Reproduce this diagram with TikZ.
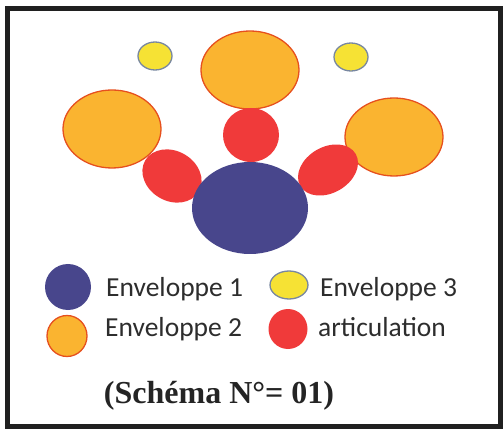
\documentclass[tikz,border=0pt]{standalone}
\usepackage{fontspec}
\setmainfont{Carlito}
\newfontfamily\titlefont{Liberation Serif}
\usepackage{xcolor}
\usetikzlibrary{shapes.geometric, positioning}
\definecolor{envblue}{RGB}{72,70,140}
\definecolor{envorange}{RGB}{250,180,48}
\definecolor{envedge}{RGB}{230,80,30}
\definecolor{envyellow}{RGB}{246,226,52}
\definecolor{yellowedge}{RGB}{120,135,160}
\definecolor{artred}{RGB}{240,58,58}
\definecolor{textgray}{RGB}{45,45,45}
\tikzset{
  envone/.style={ellipse,fill=envblue,inner sep=0pt},
  envtwo/.style={ellipse,fill=envorange,draw=envedge,line width=1.3pt,inner sep=0pt,
    minimum width=98pt,minimum height=78pt},
  envthree/.style={ellipse,fill=envyellow,draw=yellowedge,line width=1.3pt,inner sep=0pt,
    minimum width=34pt,minimum height=28pt},
  joint/.style={ellipse,fill=artred,inner sep=0pt},
  legendtext/.style={anchor=base west,text=textgray,font=\fontsize{27.5}{29}\selectfont,inner sep=0pt}
}

\begin{document}
\begin{tikzpicture}[x=1pt,y=-1pt]
  \useasboundingbox (0,0) rectangle (504,433);
  \node[draw=textgray!70!black,line width=5pt,minimum width=493pt,minimum height=417pt,
    inner sep=0pt] (frame) at (253.5,217.5) {};

  % the figure
  \node[envthree] (yleft) at (155,56) {};
  \node[envthree] (yright) at (351,57) {};
  \node[envtwo] (otop) at (250,70) {};
  \node[envtwo] (oleft) at (112,129) {};
  \node[envtwo] (oright) at (394,137) {};
  \node[joint,minimum width=56pt,minimum height=54pt] (rtop) at (251,135) {};
  \node[joint,minimum width=62pt,minimum height=50pt,rotate=-30] (rleft) at (172,176) {};
  \node[joint,minimum width=64pt,minimum height=46pt,rotate=30] (rright) at (328,170) {};
  \node[envone,minimum width=116pt,minimum height=92pt] (body) at (250,208) {};

  % legend
  \node[envone,minimum size=46pt] (keyone) at (68,287) {};
  \node[legendtext] (labone) at (106,296) {Enveloppe 1};
  \node[envthree,minimum width=38pt,minimum height=28pt] (keythree) at (289,285) {};
  \node[legendtext] (labthree) at (320,296) {Enveloppe 3};
  \node[envtwo,minimum width=40pt,minimum height=41pt] (keytwo) at (67,336) {};
  \node[legendtext] (labtwo) at (105,336) {Enveloppe 2};
  \node[joint,minimum width=39pt,minimum height=40pt] (keyjoint) at (288,329) {};
  \node[legendtext] (labjoint) at (318,336) {articulation};

  \node[anchor=base,text=textgray!80!black,inner sep=0pt,
    font=\titlefont\bfseries\fontsize{32}{34}\selectfont] (caption) at (219,403)
    {(Schéma N°= 01)};
\end{tikzpicture}
\end{document}
